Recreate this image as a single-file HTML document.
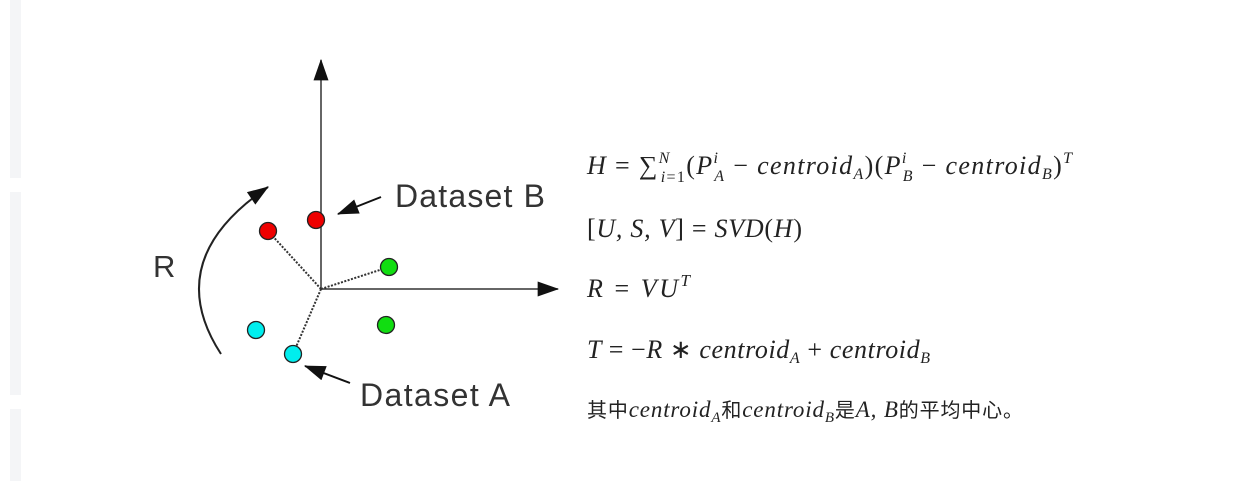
<!DOCTYPE html>
<html><head><meta charset="utf-8"><style>
body{margin:0;width:1260px;height:481px;background:#fff;overflow:hidden;position:relative}
.strip{position:absolute;left:10px;width:11px;background:#f4f5f7}
svg{position:absolute;left:0;top:0}
.f{font-family:"Liberation Serif","Noto Serif CJK SC",serif;font-style:italic;fill:#222;font-size:26px}
.n{font-style:normal}
.lab{font-family:"Liberation Sans",sans-serif;fill:#333;font-size:32px}
</style></head><body>
<div class="strip" style="top:0;height:178px"></div>
<div class="strip" style="top:192px;height:203px"></div>
<div class="strip" style="top:409px;height:72px"></div>
<svg width="1260" height="481">
<defs>
<marker id="big" viewBox="0 0 20 14" refX="19" refY="7" markerWidth="22" markerHeight="15" orient="auto" markerUnits="userSpaceOnUse"><path d="M0,0 L20,7 L0,14z" fill="#111"/></marker></defs>
<line x1="321" y1="289" x2="321" y2="60" stroke="#333" stroke-width="1.5" marker-end="url(#big)"/>
<line x1="321" y1="289" x2="558" y2="289" stroke="#333" stroke-width="1.5" marker-end="url(#big)"/>
<g stroke="#333" stroke-width="2" stroke-dasharray="2,1.5">
<line x1="321" y1="289" x2="268" y2="231"/><line x1="321" y1="289" x2="389" y2="267"/><line x1="321" y1="289" x2="293" y2="354"/></g>
<g stroke="#222" stroke-width="1.3">
<circle cx="268" cy="231" r="8.5" fill="#e00"/>
<circle cx="316" cy="220" r="8.5" fill="#e00"/>
<circle cx="389" cy="267" r="8.5" fill="#1d1"/>
<circle cx="386" cy="325" r="8.5" fill="#1d1"/>
<circle cx="256" cy="330" r="8.5" fill="#0ee"/>
<circle cx="293" cy="354" r="8.5" fill="#0ee"/>
</g>
<path d="M221,354 Q160,260 268,187" fill="none" stroke="#222" stroke-width="2" marker-end="url(#big)"/>
<text x="153" y="277" class="lab" style="font-size:31px">R</text>
<line x1="381" y1="197" x2="338" y2="214" stroke="#111" stroke-width="2" marker-end="url(#big)"/>
<text x="395" y="207" class="lab" textLength="150">Dataset B</text>
<line x1="350" y1="383" x2="305" y2="366" stroke="#111" stroke-width="2" marker-end="url(#big)"/>
<text x="360" y="406" class="lab" textLength="150">Dataset A</text>
<g>
<text x="587" y="174" class="f" textLength="485" lengthAdjust="spacing">H <tspan class="n">= ∑</tspan><tspan font-size="16" dy="-11">N</tspan><tspan font-size="16" dx="-10" dy="19">i<tspan class="n">=1</tspan></tspan><tspan dy="-8" class="n">(</tspan>P<tspan font-size="16" dy="-11">i</tspan><tspan font-size="16" dx="-5" dy="18">A</tspan><tspan dy="-7" class="n"> − </tspan>centroid<tspan font-size="16" dy="5">A</tspan><tspan dy="-5" class="n">)(</tspan>P<tspan font-size="16" dy="-11">i</tspan><tspan font-size="16" dx="-5" dy="18">B</tspan><tspan dy="-7" class="n"> − </tspan>centroid<tspan font-size="16" dy="5">B</tspan><tspan dy="-5" class="n">)</tspan><tspan font-size="16" dy="-11">T</tspan></text>
<text x="587" y="237" class="f" textLength="215" lengthAdjust="spacing"><tspan class="n">[</tspan>U, S, V<tspan class="n">] = </tspan>SVD<tspan class="n">(</tspan>H<tspan class="n">)</tspan></text>
<text x="587" y="297" class="f" textLength="103" lengthAdjust="spacing">R <tspan class="n">= </tspan>VU<tspan font-size="17" dy="-11">T</tspan></text>
<text x="587" y="358" class="f" textLength="343" lengthAdjust="spacing">T <tspan class="n">= −</tspan>R <tspan class="n">∗</tspan> centroid<tspan font-size="16" dy="5">A</tspan><tspan dy="-5" class="n"> + </tspan>centroid<tspan font-size="16" dy="5">B</tspan></text>
<text x="587" y="417" class="f" style="font-size:23px" textLength="436" lengthAdjust="spacing"><tspan class="n" font-family="Noto Sans CJK SC" font-size="20">其中</tspan>centroid<tspan font-size="15" dy="5">A</tspan><tspan dy="-5" class="n" font-family="Noto Sans CJK SC" font-size="20">和</tspan>centroid<tspan font-size="15" dy="5">B</tspan><tspan dy="-5" class="n" font-family="Noto Sans CJK SC" font-size="20">是</tspan>A, B<tspan class="n" font-family="Noto Sans CJK SC" font-size="20">的平均中心。</tspan></text>
</g>
</svg>
</body></html>
